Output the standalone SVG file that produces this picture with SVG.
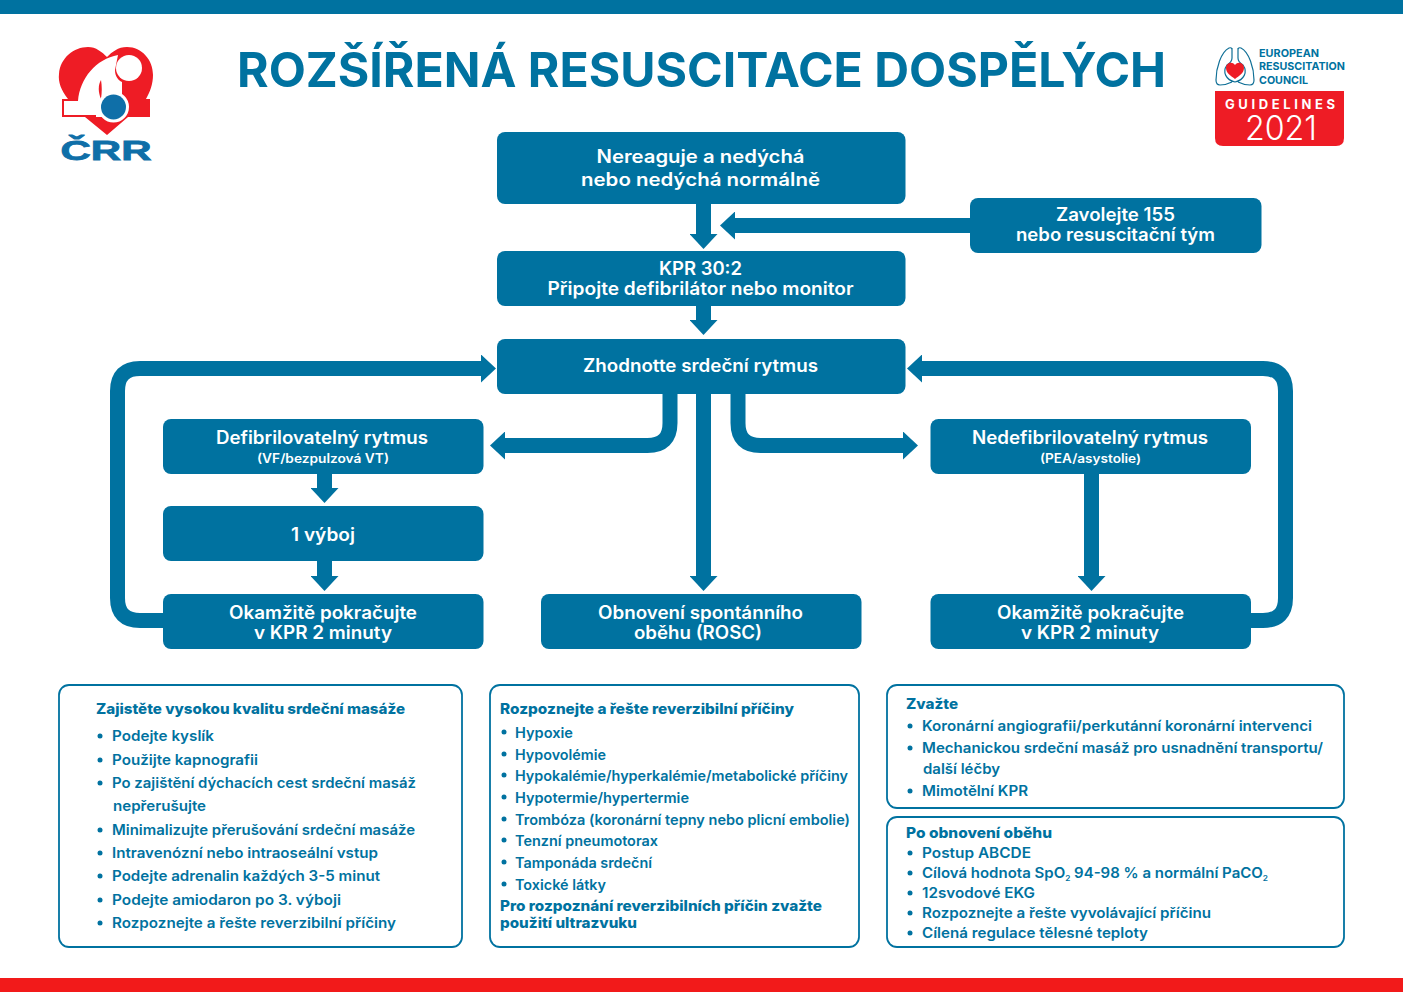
<svg xmlns="http://www.w3.org/2000/svg" width="1403" height="992" viewBox="0 0 1403 992">
<style>
text{font-family:"Inter","Liberation Sans",sans-serif}
.n{fill:#0072a0}
.t{fill:#fff;font-weight:600;font-size:18px;text-anchor:middle;transform:translateY(.35px)}
.s{fill:#fff;font-weight:600;font-size:12.500px;text-anchor:middle;transform:translateY(.35px)}
.p{fill:#fff;stroke:#0072a0;stroke-width:1.8}
.h{fill:#0072a0;font-weight:800;font-size:14.500px;transform:translateY(.35px)}
.i{fill:#0072a0;font-weight:600;font-size:14.500px;transform:translateY(.35px)}
.b{fill:#0072a0}
.c{fill:none;stroke:#0072a0;stroke-width:15;marker-end:url(#a)}
.e{fill:#0072a0;font-weight:700;font-size:11px}
</style>
<defs>
<marker id="a" markerUnits="userSpaceOnUse" markerWidth="15" markerHeight="28" viewBox="0 0 15 28" refX="0" refY="14" orient="auto"><polygon points="0,0 15,14 0,28" fill="#0072a0"/></marker>
</defs>
<rect width="1403" height="14" fill="#0072a0"/>
<rect y="978" width="1403" height="14" fill="#f21a1a"/>
<text x="701.500" y="87" text-anchor="middle" textLength="929" lengthAdjust="spacingAndGlyphs" fill="#0072a0" font-weight="700" font-size="48">ROZŠÍŘENÁ RESUSCITACE DOSPĚLÝCH</text>

<g id="logo-crr">
<path d="M107 135L85 117H62V99H68C61 90 58 82 59 74C60 58 74 47 88 47C96 47 102 52 107 57C112 52 118 47 127 47C142 47 153 60 153 75C153 84 150 92 146 99H150V117H128Z" fill="#ee1c25"/>
<rect x="64" y="101" width="38" height="14" fill="#fff"/>
<path d="M78 101C80 78 96 59 118 55L115 70C115 76 118 80 122 82L122 97L104 117H96L96 101Z" fill="#fff"/>
<path d="M101 80C98 85 98 92 101 99C102 92 102 86 101 80Z" fill="#ee1c25"/>
<circle cx="129" cy="68" r="13" fill="#fff"/>
<circle cx="113.500" cy="107" r="15.500" fill="#fff"/>
<circle cx="113.500" cy="107" r="12.500" fill="#0f6fa8"/>
<text x="106" y="159.500" text-anchor="middle" textLength="91" lengthAdjust="spacingAndGlyphs" fill="#0f6fa8" stroke="#0f6fa8" stroke-width=".8" font-weight="900" font-size="27" style="font-family:'Liberation Sans',sans-serif">ČRR</text>
</g>

<g id="logo-erc">
<path d="M1232 50Q1232 47 1229 48C1221 52 1216 68 1216 80Q1216 85 1220 85C1224 85 1228 84 1232 82M1238 50Q1238 47 1241 48C1249 52 1254 68 1254 80Q1254 85 1250 85C1246 85 1242 84 1238 82M1232 48V58Q1232 62 1227 65C1222 72 1226 80 1235 82C1244 80 1248 72 1243 65Q1238 62 1238 58V48" fill="none" stroke="#0f6f96" stroke-width="1.200"/>
<path d="M1235 79C1231 76 1226 73 1226 68C1226 63 1232 61 1235 65C1238 61 1244 63 1244 68C1244 73 1239 76 1235 79Z" fill="#ee1c25"/>
<path d="M1215 91H1344V138Q1344 146 1336 146H1223Q1215 146 1215 138Z" fill="#ee1c25"/>
<text class="e" x="1259" y="57" textLength="60" lengthAdjust="spacingAndGlyphs">EUROPEAN</text>
<text class="e" x="1259" y="70" textLength="86" lengthAdjust="spacingAndGlyphs">RESUSCITATION</text>
<text class="e" x="1259" y="84" textLength="49" lengthAdjust="spacingAndGlyphs">COUNCIL</text>
<text x="1225" y="108.500" textLength="110" fill="#fff" font-weight="700" font-size="13">GUIDELINES</text>
<text x="1245" y="139.500" textLength="72" lengthAdjust="spacingAndGlyphs" fill="#fff" font-weight="300" font-size="34">2021</text>
</g>

<g id="connectors">
<path class="c" d="M703.500 204V234"/>
<path class="c" d="M970 225.500H735"/>
<path class="c" d="M703.500 306V320"/>
<path class="c" d="M670 394V423Q670 445.500 647.500 445.500H505"/>
<path class="c" d="M703.500 394V576"/>
<path class="c" d="M738 394V423Q738 445.500 760.500 445.500H903"/>
<path class="c" d="M324.500 474V488"/>
<path class="c" d="M324.500 561V576"/>
<path class="c" d="M1091.500 474V576"/>
<path class="c" d="M163 620.500H140Q117.500 620.500 117.500 598V391Q117.500 368.500 140 368.500H481"/>
<path class="c" d="M1251 620.500H1263Q1285.500 620.500 1285.500 598V391Q1285.500 368.500 1263 368.500H922"/>
</g>

<g id="n-start"><rect class="n" x="497" y="132" width="408.500" height="72" rx="8"/>
<text class="t" x="700.500" y="163" textLength="208" lengthAdjust="spacingAndGlyphs">Nereaguje a nedýchá</text>
<text class="t" x="700.500" y="186" textLength="239" lengthAdjust="spacingAndGlyphs">nebo nedýchá normálně</text></g>
<g id="n-call"><rect class="n" x="970" y="198" width="291.500" height="55" rx="8"/>
<text class="t" x="1115.500" y="221" textLength="119" lengthAdjust="spacingAndGlyphs">Zavolejte 155</text>
<text class="t" x="1115.500" y="241" textLength="199" lengthAdjust="spacingAndGlyphs">nebo resuscitační tým</text></g>
<g id="n-kpr"><rect class="n" x="497" y="251" width="408.500" height="55" rx="8"/>
<text class="t" x="700.500" y="275" textLength="83" lengthAdjust="spacingAndGlyphs">KPR 30:2</text>
<text class="t" x="700.500" y="295" textLength="306" lengthAdjust="spacingAndGlyphs">Připojte defibrilátor nebo monitor</text></g>
<g id="n-rhythm"><rect class="n" x="497" y="339" width="408.500" height="55" rx="8"/>
<text class="t" x="700.500" y="372" textLength="235" lengthAdjust="spacingAndGlyphs">Zhodnotte srdeční rytmus</text></g>
<g id="n-shock"><rect class="n" x="163" y="419" width="320.500" height="55" rx="8"/>
<text class="t" x="322" y="444" textLength="212" lengthAdjust="spacingAndGlyphs">Defibrilovatelný rytmus</text>
<text class="s" x="323" y="463" textLength="132" lengthAdjust="spacingAndGlyphs">(VF/bezpulzová VT)</text></g>
<g id="n-one"><rect class="n" x="163" y="506" width="320.500" height="55" rx="8"/>
<text class="t" x="323" y="541" textLength="64" lengthAdjust="spacingAndGlyphs">1 výboj</text></g>
<g id="n-cpr-left"><rect class="n" x="163" y="594" width="320.500" height="55" rx="8"/>
<text class="t" x="323" y="619" textLength="188" lengthAdjust="spacingAndGlyphs">Okamžitě pokračujte</text>
<text class="t" x="323" y="639" textLength="138" lengthAdjust="spacingAndGlyphs">v KPR 2 minuty</text></g>
<g id="n-rosc"><rect class="n" x="541" y="594" width="320.500" height="55" rx="8"/>
<text class="t" x="700.500" y="619" textLength="205" lengthAdjust="spacingAndGlyphs">Obnovení spontánního</text>
<text class="t" x="698" y="639" textLength="128" lengthAdjust="spacingAndGlyphs">oběhu (ROSC)</text></g>
<g id="n-noshock"><rect class="n" x="930.500" y="419" width="320.500" height="55" rx="8"/>
<text class="t" x="1090" y="444" textLength="236" lengthAdjust="spacingAndGlyphs">Nedefibrilovatelný rytmus</text>
<text class="s" x="1090.500" y="463" textLength="101" lengthAdjust="spacingAndGlyphs">(PEA/asystolie)</text></g>
<g id="n-cpr-right"><rect class="n" x="930.500" y="594" width="320.500" height="55" rx="8"/>
<text class="t" x="1090.500" y="619" textLength="187" lengthAdjust="spacingAndGlyphs">Okamžitě pokračujte</text>
<text class="t" x="1090" y="639" textLength="138" lengthAdjust="spacingAndGlyphs">v KPR 2 minuty</text></g>

<g id="panel-quality"><rect class="p" x="59" y="685" width="403" height="262" rx="10"/>
<text class="h" x="96" y="714" textLength="309" lengthAdjust="spacingAndGlyphs">Zajistěte vysokou kvalitu srdeční masáže</text>
<circle class="b" cx="100" cy="736" r="2.500"/><text class="i" x="112" y="741" textLength="102" lengthAdjust="spacingAndGlyphs">Podejte kyslík</text>
<circle class="b" cx="100" cy="760" r="2.500"/><text class="i" x="112" y="765" textLength="146" lengthAdjust="spacingAndGlyphs">Použijte kapnografii</text>
<circle class="b" cx="100" cy="783" r="2.500"/><text class="i" x="112" y="788" textLength="304" lengthAdjust="spacingAndGlyphs">Po zajištění dýchacích cest srdeční masáž</text>
<text class="i" x="113" y="811" textLength="93" lengthAdjust="spacingAndGlyphs">nepřerušujte</text>
<circle class="b" cx="100" cy="830" r="2.500"/><text class="i" x="112" y="835" textLength="303" lengthAdjust="spacingAndGlyphs">Minimalizujte přerušování srdeční masáže</text>
<circle class="b" cx="100" cy="853" r="2.500"/><text class="i" x="112" y="858" textLength="266" lengthAdjust="spacingAndGlyphs">Intravenózní nebo intraoseální vstup</text>
<circle class="b" cx="100" cy="876" r="2.500"/><text class="i" x="112" y="881" textLength="268" lengthAdjust="spacingAndGlyphs">Podejte adrenalin každých 3-5 minut</text>
<circle class="b" cx="100" cy="900" r="2.500"/><text class="i" x="112" y="905" textLength="229" lengthAdjust="spacingAndGlyphs">Podejte amiodaron po 3. výboji</text>
<circle class="b" cx="100" cy="923" r="2.500"/><text class="i" x="112" y="928" textLength="284" lengthAdjust="spacingAndGlyphs">Rozpoznejte a řešte reverzibilní příčiny</text></g>

<g id="panel-causes"><rect class="p" x="490" y="685" width="369" height="262" rx="10"/>
<text class="h" x="500" y="714" textLength="294" lengthAdjust="spacingAndGlyphs">Rozpoznejte a řešte reverzibilní příčiny</text>
<circle class="b" cx="504" cy="732" r="2.500"/><text class="i" x="515" y="737.500" textLength="58" lengthAdjust="spacingAndGlyphs">Hypoxie</text>
<circle class="b" cx="504" cy="754" r="2.500"/><text class="i" x="515" y="759.500" textLength="91" lengthAdjust="spacingAndGlyphs">Hypovolémie</text>
<circle class="b" cx="504" cy="775" r="2.500"/><text class="i" x="515" y="780.500" textLength="333" lengthAdjust="spacingAndGlyphs">Hypokalémie/hyperkalémie/metabolické příčiny</text>
<circle class="b" cx="504" cy="797" r="2.500"/><text class="i" x="515" y="802.500" textLength="174" lengthAdjust="spacingAndGlyphs">Hypotermie/hypertermie</text>
<circle class="b" cx="504" cy="819" r="2.500"/><text class="i" x="515" y="824.500" textLength="335" lengthAdjust="spacingAndGlyphs">Trombóza (koronární tepny nebo plicní embolie)</text>
<circle class="b" cx="504" cy="840" r="2.500"/><text class="i" x="515" y="845.500" textLength="143" lengthAdjust="spacingAndGlyphs">Tenzní pneumotorax</text>
<circle class="b" cx="504" cy="862" r="2.500"/><text class="i" x="515" y="867.500" textLength="137" lengthAdjust="spacingAndGlyphs">Tamponáda srdeční</text>
<circle class="b" cx="504" cy="884" r="2.500"/><text class="i" x="515" y="889.500" textLength="91" lengthAdjust="spacingAndGlyphs">Toxické látky</text>
<text class="h" x="500" y="911" textLength="322" lengthAdjust="spacingAndGlyphs">Pro rozpoznání reverzibilních příčin zvažte</text>
<text class="h" x="500" y="928" textLength="137" lengthAdjust="spacingAndGlyphs">použití ultrazvuku</text></g>

<g id="panel-consider"><rect class="p" x="887" y="685" width="457" height="123" rx="10"/>
<text class="h" x="906" y="709" textLength="52" lengthAdjust="spacingAndGlyphs">Zvažte</text>
<circle class="b" cx="910" cy="726" r="2.500"/><text class="i" x="922" y="731" textLength="390" lengthAdjust="spacingAndGlyphs">Koronární angiografii/perkutánní koronární intervenci</text>
<circle class="b" cx="910" cy="748" r="2.500"/><text class="i" x="922" y="753" textLength="401" lengthAdjust="spacingAndGlyphs">Mechanickou srdeční masáž pro usnadnění transportu/</text>
<text class="i" x="923" y="774" textLength="77" lengthAdjust="spacingAndGlyphs">další léčby</text>
<circle class="b" cx="910" cy="791" r="2.500"/><text class="i" x="922" y="796" textLength="106" lengthAdjust="spacingAndGlyphs">Mimotělní KPR</text></g>

<g id="panel-rosc"><rect class="p" x="887" y="817" width="457" height="130" rx="10"/>
<text class="h" x="906" y="838" textLength="146" lengthAdjust="spacingAndGlyphs">Po obnovení oběhu</text>
<circle class="b" cx="910" cy="853" r="2.500"/><text class="i" x="922" y="858" textLength="109" lengthAdjust="spacingAndGlyphs">Postup ABCDE</text>
<circle class="b" cx="910" cy="873" r="2.500"/><text class="i" x="922" y="878" textLength="346" lengthAdjust="spacingAndGlyphs">Cílová hodnota SpO<tspan dy="3" font-size="8">2</tspan><tspan dy="-3"> 94-98 % a normální PaCO</tspan><tspan dy="3" font-size="8">2</tspan></text>
<circle class="b" cx="910" cy="893" r="2.500"/><text class="i" x="922" y="898" textLength="113" lengthAdjust="spacingAndGlyphs">12svodové EKG</text>
<circle class="b" cx="910" cy="913" r="2.500"/><text class="i" x="922" y="918" textLength="289" lengthAdjust="spacingAndGlyphs">Rozpoznejte a řešte vyvolávající příčinu</text>
<circle class="b" cx="910" cy="933" r="2.500"/><text class="i" x="922" y="938" textLength="226" lengthAdjust="spacingAndGlyphs">Cílená regulace tělesné teploty</text></g>
</svg>
